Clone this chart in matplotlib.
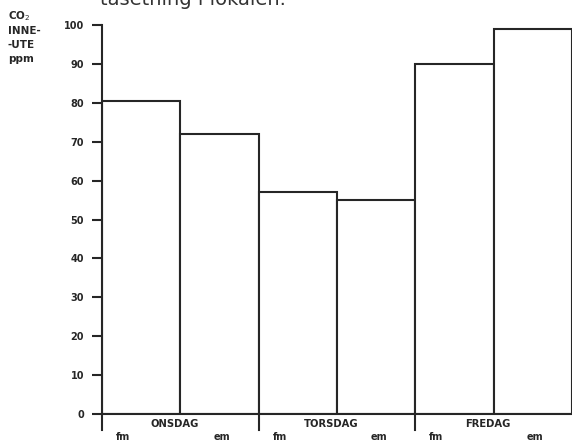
import matplotlib
matplotlib.use("Agg")
import matplotlib.pyplot as plt

# CO2 difference indoor-outdoor (ppm), morning (fm) and afternoon (em) per day
days = ["ONSDAG", "TORSDAG", "FREDAG"]
periods = ["fm", "em"]
co2_diff = [80.5, 72, 57, 55, 90, 99]
yticks = [0, 10, 20, 30, 40, 50, 60, 70, 80, 90, 100]

ink = "#262626"
fig = plt.figure(figsize=(5.72, 4.46), dpi=100)
fig.patch.set_facecolor("white")
ax = fig.add_axes([102 / 572, 32 / 446, 470 / 572, 389 / 446])

xs = list(range(len(co2_diff)))
ax.bar(xs, co2_diff, width=1.0, align="edge", facecolor="white",
       edgecolor=ink, linewidth=1.5, zorder=2)

ax.set_xlim(0, len(co2_diff))
ax.set_ylim(0, 100)
ax.set_yticks(yticks)
ax.set_yticklabels([str(t) for t in yticks], fontsize=7, fontweight="bold", color=ink)
ax.tick_params(axis="y", direction="out", length=7, width=1.5, color=ink, pad=6)
ax.set_xticks([])

for s in ["top", "right"]:
    ax.spines[s].set_visible(False)
for s in ["left", "bottom"]:
    ax.spines[s].set_color(ink)
    ax.spines[s].set_linewidth(1.5)

# day separators below the baseline
for i in range(len(days)):
    x0 = 2 * i
    ax.plot([x0, x0], [0, -4], color=ink, lw=1.5, clip_on=False, zorder=3)
    ax.text(x0 + 0.93, -2.6, days[i], ha="center", va="center", fontsize=7.2,
            fontweight="bold", color=ink, clip_on=False)
    ax.text(x0 + 0.27, -5.8, periods[0], ha="center", va="center", fontsize=7,
            fontweight="bold", color=ink, clip_on=False)
    ax.text(x0 + 1.53, -5.8, periods[1], ha="center", va="center", fontsize=7,
            fontweight="bold", color=ink, clip_on=False)

# y-axis caption
fig.text(8 / 572, 1 - 9 / 446, "CO$_2$\nINNE-\n-UTE\nppm", ha="left", va="top",
         fontsize=7.5, fontweight="bold", color=ink, linespacing=1.45)

# heading line, partly cut by the top edge
fig.text(100 / 572, 1 - 5 / 446, "tasetning i lokalen.", ha="left", va="baseline",
         fontsize=14, color="#333333")

fig.savefig("out.png", dpi=100, facecolor="white")
